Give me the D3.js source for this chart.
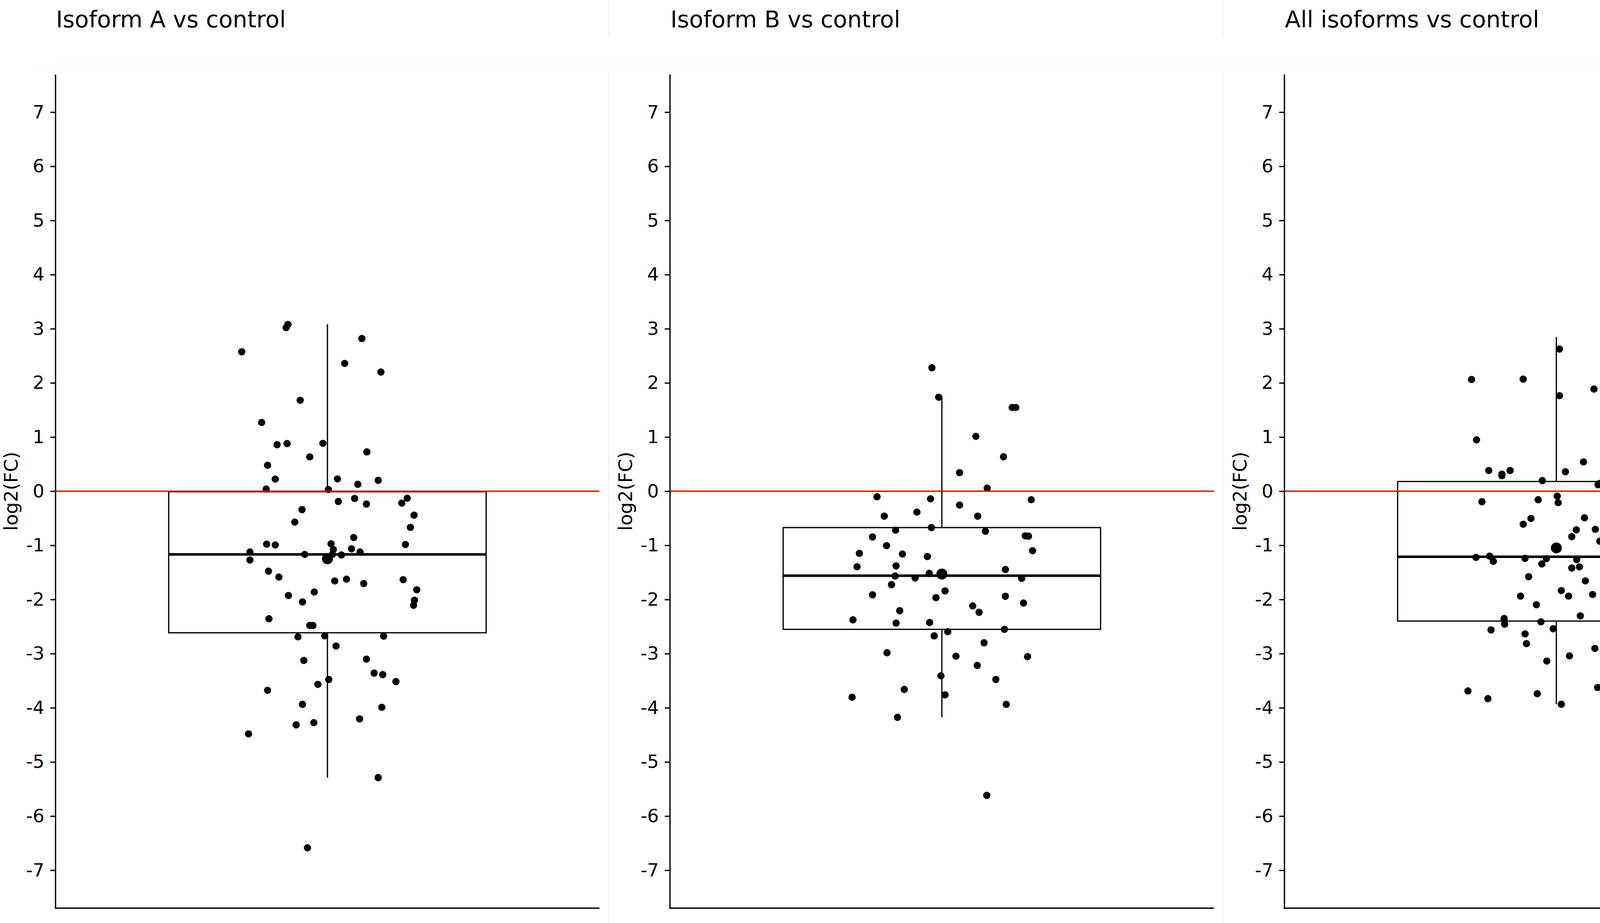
<!DOCTYPE html>
<html>
<head>
<meta charset="utf-8">
<script src="https://cdn.jsdelivr.net/npm/d3@7"></script>
<style>
  html, body { margin: 0; padding: 0; background: #fff; }
  text { font-family: "DejaVu Sans", sans-serif; }
</style>
</head>
<body>
<div id="chart"></div>
<script>
// panel titles
let titles = ["Isoform A vs control", "Isoform B vs control", "All isoforms vs control"];

// y axis ticks
let yTicks = d3.range(-7, 8);

// jittered points: [x offset from category centre, log2(FC)]
let pointsA = [
  [-0.087,3.08],[-0.091,3.02],[-0.189,2.575],[0.076,2.82],[0.038,2.36],[0.118,2.20],[-0.060,1.68],
  [-0.145,1.27],[-0.111,0.86],[-0.089,0.88],[-0.010,0.884],[-0.039,0.633],[0.087,0.726],[-0.132,0.479],
  [-0.115,0.224],[0.022,0.227],[0.067,0.127],[0.112,0.201],[-0.135,0.040],[0.002,0.031],[0.024,-0.19],
  [0.060,-0.134],[0.086,-0.237],[0.176,-0.13],[0.164,-0.22],[-0.056,-0.34],[0.191,-0.443],[-0.072,-0.57],
  [0.183,-0.668],[0.058,-0.855],[-0.134,-0.977],[-0.115,-0.993],[0.008,-0.971],[0.172,-0.984],
  [-0.171,-1.122],[-0.171,-1.27],[-0.050,-1.167],[0.013,-1.077],[0.011,-1.167],[0.053,-1.064],
  [0.072,-1.122],[0.031,-1.177],[-0.130,-1.477],[-0.107,-1.586],
  [0.016,-1.658],[0.042,-1.624],[0.080,-1.706],[0.167,-1.634],[0.197,-1.820],[0.192,-2.014],[0.190,-2.107],
  [-0.086,-1.927],[-0.029,-1.862],[-0.055,-2.045],[-0.129,-2.355],[-0.039,-2.48],[-0.032,-2.48],
  [-0.065,-2.69],[-0.006,-2.669],[0.124,-2.676],[0.019,-2.859],[-0.052,-3.125],[0.086,-3.101],
  [0.103,-3.36],[0.122,-3.387],[0.151,-3.515],[0.003,-3.477],[-0.021,-3.567],[-0.132,-3.677],
  [-0.055,-3.936],[0.120,-3.991],[0.071,-4.205],[-0.069,-4.315],[-0.030,-4.274],[-0.174,-4.481],
  [0.112,-5.289],[-0.044,-6.586]
];

let pointsB = [
  [-0.022,2.28],[-0.007,1.736],[0.155,1.546],[0.163,1.546],[0.075,1.012],[0.136,0.636],[0.039,0.342],
  [0.100,0.057],[-0.143,-0.103],[-0.025,-0.141],[0.197,-0.157],[0.039,-0.256],[-0.055,-0.386],
  [-0.127,-0.461],[0.079,-0.461],[-0.102,-0.72],[-0.023,-0.672],[0.096,-0.739],[-0.153,-0.845],
  [0.184,-0.824],[0.191,-0.829],[-0.122,-1.005],[-0.182,-1.147],[-0.087,-1.160],[0.200,-1.099],
  [-0.032,-1.206],[-0.187,-1.395],[-0.101,-1.379],[0.140,-1.446],[-0.028,-1.518],
  [-0.103,-1.566],[-0.059,-1.601],[0.176,-1.609],[-0.111,-1.726],[-0.153,-1.913],[0.007,-1.841],
  [-0.013,-1.966],[0.140,-1.940],[0.180,-2.065],[0.068,-2.118],[0.082,-2.236],[-0.093,-2.207],
  [-0.196,-2.375],[-0.101,-2.436],[-0.027,-2.425],[0.138,-2.551],[0.013,-2.594],[-0.017,-2.671],
  [0.093,-2.799],[-0.121,-2.983],[0.031,-3.047],[0.189,-3.055],[0.078,-3.218],[-0.002,-3.408],
  [0.119,-3.477],[-0.083,-3.661],[0.007,-3.760],[-0.198,-3.805],[0.142,-3.936],[-0.098,-4.176],
  [0.099,-5.617]
];

let pointsAll = [
  [0.120,2.848],[0.007,2.625],[-0.187,2.063],[-0.073,2.07],[0.083,1.886],[0.007,1.764],[0.134,1.630],
  [0.122,1.331],[-0.176,0.948],[0.153,0.850],[0.060,0.541],[0.130,0.627],[0.187,0.500],[-0.149,0.383],
  [-0.120,0.316],[-0.120,0.285],[-0.102,0.383],[0.020,0.359],[0.111,0.297],[-0.031,0.196],[0.092,0.120],
  [0.096,0.144],[-0.164,-0.194],[-0.040,-0.158],[0.002,-0.091],[0.004,-0.211],[-0.056,-0.503],
  [-0.073,-0.61],[0.062,-0.491],[0.114,-0.534],[0.117,-0.586],[0.149,-0.462],[0.193,-0.469],
  [0.044,-0.713],[0.086,-0.704],
  [0.034,-0.840],[0.096,-0.923],[0.134,-1.175],[-0.177,-1.223],[-0.147,-1.199],[-0.139,-1.295],
  [-0.069,-1.240],[-0.022,-1.247],[0.045,-1.264],[-0.032,-1.343],[0.034,-1.419],[0.051,-1.398],
  [0.173,-1.421],[-0.061,-1.579],[0.064,-1.656],[0.011,-1.835],[0.027,-1.938],[0.080,-1.907],
  [0.110,-1.816],[-0.079,-1.938],[-0.044,-2.096],[0.053,-2.302],[-0.115,-2.352],[-0.114,-2.455],
  [-0.034,-2.412],[-0.144,-2.561],[-0.069,-2.635],[-0.007,-2.539],[0.177,-2.539],[-0.066,-2.814],
  [0.085,-2.903],[0.189,-2.862],[0.029,-3.042],[-0.021,-3.137],[0.174,-3.118],[0.174,-3.178],
  [0.163,-3.333],[-0.195,-3.688],[-0.151,-3.831],[-0.042,-3.740],[0.091,-3.625],[0.149,-3.68],
  [0.011,-3.934]
];

// box statistics per panel
let whiskerLow = [-5.289, -4.176, -3.934];
let boxQ1 = [-2.614, -2.551, -2.398];
let boxMedian = [-1.167, -1.561, -1.211];
let boxQ3 = [-0.01, -0.672, 0.179];
let whiskerHigh = [3.084, 1.736, 2.848];
let groupMean = [-1.25, -1.53, -1.048];

let panelPoints = [pointsA, pointsB, pointsAll];

let width = 4688,
  height = 2362,
  panelStep = 1573,
  left0 = 141.7,
  plotW = 1393,
  plotTop = 190,
  plotBottom = 2324;

let svg = d3.select("#chart")
  .append("svg")
  .attr("width", width)
  .attr("height", height);

// faint seams between the stitched plots
[1558, 3131].forEach(sx => {
  svg.append("line")
    .attr("x1", sx).attr("x2", sx).attr("y1", 0).attr("y2", 93)
    .attr("stroke", "#e4e4e4").attr("stroke-width", 1.5);
  svg.append("line")
    .attr("x1", sx).attr("x2", sx).attr("y1", 182).attr("y2", height)
    .attr("stroke", "#e4e4e4").attr("stroke-width", 1.5);
});
svg.append("line")
  .attr("x1", 150).attr("x2", width).attr("y1", 160).attr("y2", 160)
  .attr("stroke", "#f6f6f6").attr("stroke-width", 1.5);
svg.append("line")
  .attr("x1", 82).attr("x2", width).attr("y1", 179).attr("y2", 179)
  .attr("stroke", "#f6f6f6").attr("stroke-width", 1.5);

let y = d3.scaleLinear()
  .domain([-7.7, 7.7])
  .range([plotBottom, plotTop]);

let x = d3.scaleLinear()
  .domain([0.4, 1.6])
  .range([0, plotW]);

titles.forEach((title, i) => buildPanel(title, i));

function buildPanel(title, i) {
  let g = svg.append("g")
    .attr("transform", `translate(${left0 + panelStep * i},0)`);

  g.append("text")
    .text(title)
    .attr("x", 1.5)
    .attr("y", 70)
    .attr("font-size", 59)
    .attr("fill", "#000");

  // box and whiskers
  let cx = x(1),
    halfW = x(1.35) - x(1);

  g.append("line")
    .attr("x1", cx).attr("x2", cx)
    .attr("y1", y(boxQ3[i])).attr("y2", y(whiskerHigh[i]))
    .attr("stroke", "#000").attr("stroke-width", 3.2);
  g.append("line")
    .attr("x1", cx).attr("x2", cx)
    .attr("y1", y(boxQ1[i])).attr("y2", y(whiskerLow[i]))
    .attr("stroke", "#000").attr("stroke-width", 3.2);
  g.append("rect")
    .attr("x", cx - halfW)
    .attr("y", y(boxQ3[i]))
    .attr("width", halfW * 2)
    .attr("height", y(boxQ1[i]) - y(boxQ3[i]))
    .attr("fill", "#fff")
    .attr("stroke", "#000")
    .attr("stroke-width", 3.2);
  g.append("line")
    .attr("x1", cx - halfW).attr("x2", cx + halfW)
    .attr("y1", y(boxMedian[i])).attr("y2", y(boxMedian[i]))
    .attr("stroke", "#000").attr("stroke-width", 6.4);

  // jittered points
  g.selectAll("circle.pt")
    .data(panelPoints[i])
    .join("circle")
    .attr("class", "pt")
    .attr("cx", d => x(1 + d[0]))
    .attr("cy", d => y(d[1]))
    .attr("r", 9.3)
    .attr("fill", "#000");

  // mean
  g.append("circle")
    .attr("cx", cx)
    .attr("cy", y(groupMean[i]))
    .attr("r", 14)
    .attr("fill", "#000");

  // reference line at 0
  g.append("line")
    .attr("x1", 0).attr("x2", plotW)
    .attr("y1", y(0)).attr("y2", y(0))
    .attr("stroke", "#ff0000").attr("stroke-width", 3.6);

  // axes (plain hyphen minus like the original)
  let yAxis = d3.axisLeft(y)
    .tickValues(yTicks)
    .tickFormat(d => String(d))
    .tickSize(13)
    .tickSizeOuter(0)
    .tickPadding(15);

  let ax = g.append("g").call(yAxis);
  ax.select(".domain").attr("stroke", "#000").attr("stroke-width", 3.3);
  ax.selectAll(".tick line").attr("stroke", "#000").attr("stroke-width", 3.3);
  ax.selectAll(".tick text")
    .attr("font-size", 47)
    .attr("font-family", "DejaVu Sans")
    .attr("fill", "#000");

  g.append("line")
    .attr("x1", -1.6).attr("x2", plotW)
    .attr("y1", plotBottom).attr("y2", plotBottom)
    .attr("stroke", "#000").attr("stroke-width", 3.3);

  g.append("text")
    .text("log2(FC)")
    .attr("transform", `translate(${-97},${y(0)}) rotate(-90)`)
    .attr("text-anchor", "middle")
    .attr("font-size", 48)
    .attr("fill", "#000");
}
</script>
</body>
</html>
